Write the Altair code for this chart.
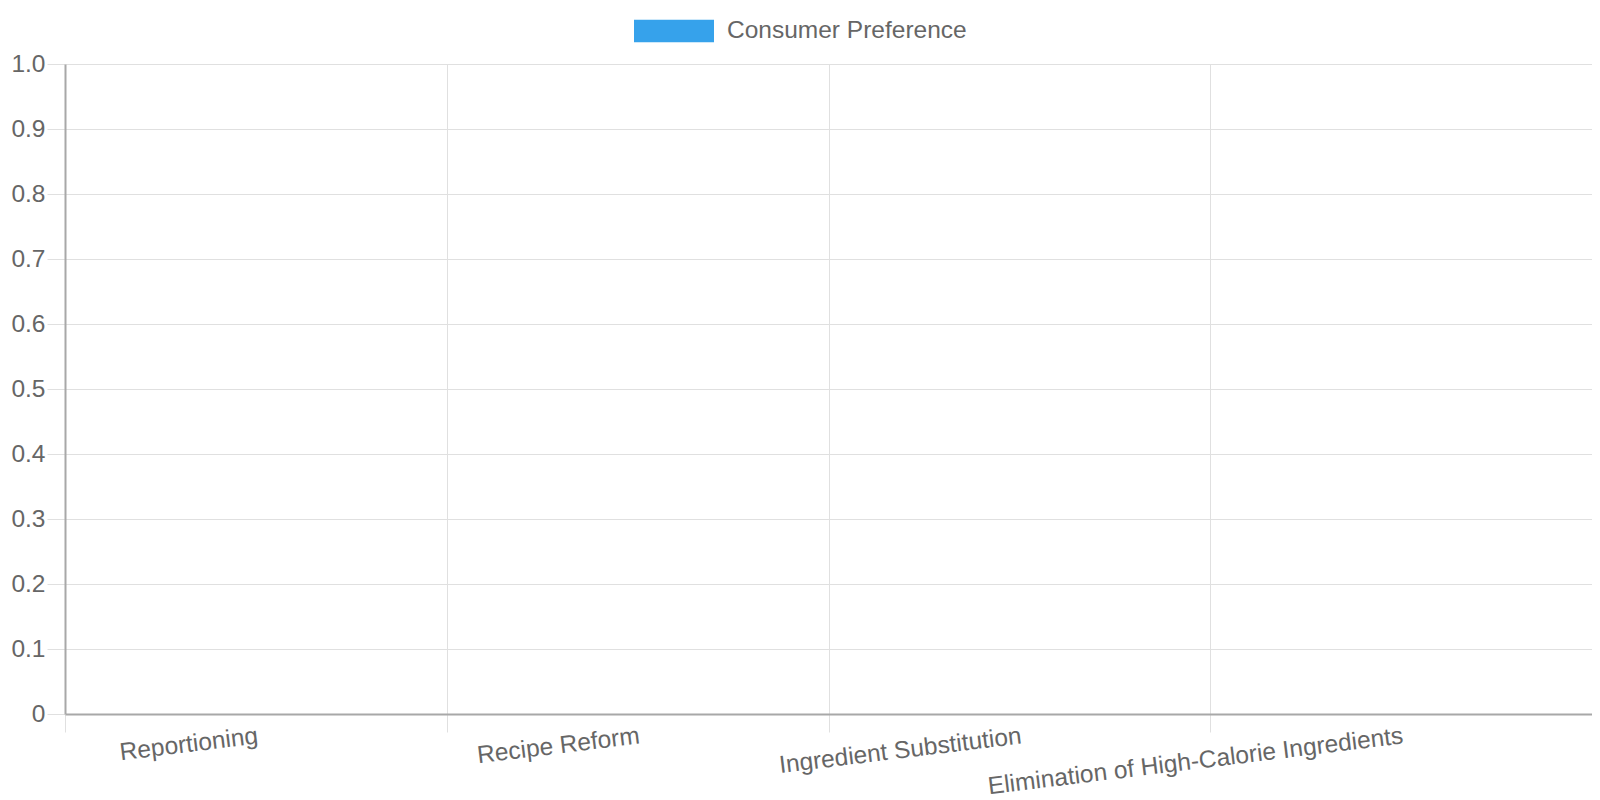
import altair as alt
import pandas as pd

categories = [
    "Reportioning",
    "Recipe Reform",
    "Ingredient Substitution",
    "Elimination of High-Calorie Ingredients",
]
values = [0.0, 0.0, 0.0, 0.0]
series_name = "Consumer Preference"
y_ticks = [0.0, 0.1, 0.2, 0.3, 0.4, 0.5, 0.6, 0.7, 0.8, 0.9, 1.0]

df = pd.DataFrame({
    "category": categories,
    "value": values,
    "series": [series_name] * len(categories),
})

FONT = "Liberation Sans"
TEXT = "#666666"
GRID = "#e0e0e0"
AXIS = "#a8a8a8"
FS = 24.5

chart = alt.Chart(df).mark_bar().encode(
    x=alt.X(
        "category:N",
        sort=categories,
        scale=alt.Scale(paddingInner=0, paddingOuter=0),
        axis=alt.Axis(
            title=None,
            tickBand="extent",
            grid=True,
            gridColor=GRID,
            gridWidth=1,
            ticks=True,
            tickSize=18,
            tickColor=GRID,
            tickWidth=1,
            domainColor=AXIS,
            domainWidth=2,
            labelAngle=353,
            labelAlign="right",
            labelBaseline="top",
            labelPadding=-8,
            labelFont=FONT,
            labelFontSize=FS,
            labelColor=TEXT,
            labelOverlap=False,
            labelLimit=0,
        ),
    ),
    y=alt.Y(
        "value:Q",
        scale=alt.Scale(domain=[0, 1], nice=False),
        axis=alt.Axis(
            title=None,
            values=y_ticks,
            labelExpr="datum.value == 0 ? '0' : format(datum.value, '.1f')",
            grid=True,
            gridColor=GRID,
            gridWidth=1,
            tickSize=18,
            tickColor=GRID,
            tickWidth=1,
            domainColor=AXIS,
            domainWidth=2,
            labelPadding=2,
            labelFont=FONT,
            labelFontSize=FS,
            labelColor=TEXT,
        ),
    ),
    color=alt.Color(
        "series:N",
        scale=alt.Scale(domain=[series_name], range=["#36A2EB"]),
        legend=alt.Legend(
            title=None,
            orient="none",
            legendX=569,
            legendY=-73,
            padding=0,
            symbolType="M-1,-0.281H1V0.281H-1Z",
            symbolSize=6400,
            symbolStrokeWidth=0,
            symbolOpacity=1,
            labelFont=FONT,
            labelFontSize=FS,
            labelColor=TEXT,
            labelOffset=13,
            labelBaseline="middle",
            labelLimit=0,
        ),
    ),
).properties(
    width=1527,
    height=650,
    autosize=alt.AutoSizeParams(type="none"),
    padding={"left": 57, "top": 56, "right": 0, "bottom": 84},
).configure_view(
    stroke=None
)

chart.save("out.html", embed_options={"renderer": "svg", "actions": False})
